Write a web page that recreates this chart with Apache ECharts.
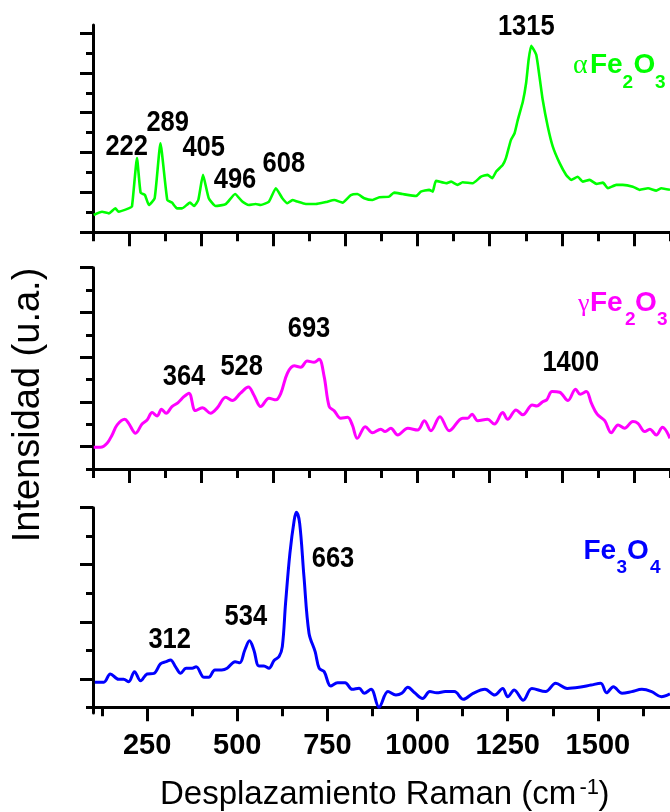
<!DOCTYPE html>
<html>
<head>
<meta charset="utf-8">
<script src="https://cdn.jsdelivr.net/npm/echarts@6/dist/echarts.min.js"></script>
<style>
html,body{margin:0;padding:0;background:#fff;}
#c{width:670px;height:812px;}
</style>
</head>
<body>
<div id="c"></div>
<script>
// ---------- DATA ----------
const alphaX = [102,125,144,162,171,199,208,222,232,244,255,271,287,306,319,333,347,369,380,392,405,421,440,468,494,514,532,551,565,588,607,625,639,653,667,690,718,746,769,792,815,833,852,875,894,921,935,958,996,1009,1032,1042,1051,1079,1093,1111,1125,1153,1176,1194,1207,1218,1236,1245,1259,1269,1278,1292,1301,1308,1315,1329,1338,1347,1361,1375,1394,1412,1426,1444,1458,1477,1496,1514,1528,1551,1569,1597,1616,1639,1662,1676,1700];
const alphaY = [0.87,1.03,0.95,1.2,1.03,1.2,1.29,3.72,1.99,1.87,1.37,1.71,4.47,1.62,1.49,1.2,1.2,1.49,1.32,1.62,2.88,1.71,1.32,1.41,1.92,1.54,1.37,1.42,1.37,1.54,2.21,1.71,1.46,1.62,1.54,1.42,1.42,1.52,1.62,1.49,1.87,1.92,1.71,1.62,1.76,1.79,1.99,1.92,1.82,2.04,2.13,2.04,2.58,2.46,2.54,2.38,2.51,2.46,2.79,2.88,2.71,3.05,3.38,3.72,4.64,4.97,5.64,6.56,7.49,8.66,9.36,8.91,7.82,6.65,5.31,4.3,3.47,2.88,2.63,2.79,2.54,2.63,2.43,2.49,2.21,2.38,2.38,2.29,2.13,2.21,2.09,2.21,2.13];

const gammaX = [102,121,139,153,167,188,199,218,236,250,264,278,290,303,319,336,352,366,384,403,426,444,468,486,509,531,546,565,588,607,621,639,658,676,694,713,727,741,755,769,787,806,819,833,855,875,898,910,926,945,973,1000,1019,1037,1062,1088,1125,1139,1151,1167,1194,1213,1236,1250,1273,1292,1318,1331,1347,1358,1373,1394,1417,1438,1451,1468,1482,1498,1519,1537,1556,1574,1597,1611,1630,1644,1662,1679,1700];
const gammaY = [0.97,0.97,1.15,1.52,1.97,2.22,2.04,1.6,2.01,2.19,2.52,2.37,2.67,2.49,2.79,2.97,3.23,3.39,2.61,2.74,2.49,2.72,3.21,3.06,3.39,3.66,3.31,2.79,3.16,3.09,3.39,4.28,4.61,4.55,4.83,4.77,4.91,4.13,2.79,2.6,2.27,2.31,1.97,1.37,1.89,1.62,1.78,1.67,1.82,1.52,1.82,1.74,2.16,1.71,2.34,1.71,2.27,2.27,2.45,2.16,2.22,2.01,2.52,2.22,2.64,2.42,2.86,2.82,3.01,3.09,3.46,3.43,3.06,3.57,3.34,3.46,2.94,2.45,2.16,1.62,1.97,1.82,2.12,2.04,1.67,1.78,1.52,1.87,1.37];

const magX = [105,130,148,171,185,199,215,232,250,269,287,303,315,329,343,358,375,386,408,421,438,457,472,494,507,521,534,546,560,574,588,602,616,625,634,646,658,664,673,685,699,716,727,741,759,778,799,819,838,852,871,893,918,940,956,973,992,1014,1034,1053,1077,1102,1127,1154,1187,1214,1236,1250,1268,1293,1317,1355,1383,1415,1448,1481,1508,1524,1543,1567,1594,1622,1649,1676,1700];
const magY = [0.88,0.88,1.17,0.98,0.98,0.9,1.25,0.93,1.17,1.19,1.52,1.6,1.66,1.42,1.19,1.37,1.37,1.42,1.05,1.05,1.31,1.31,1.37,1.6,1.56,2.01,2.33,2.01,1.45,1.45,1.37,1.64,1.78,2.13,3.65,5.4,6.57,6.84,6.46,4.58,2.6,1.95,1.37,1.25,0.75,0.86,0.86,0.63,0.67,0.49,0.63,0.0,0.55,0.43,0.49,0.7,0.51,0.31,0.55,0.51,0.55,0.55,0.28,0.49,0.63,0.43,0.66,0.37,0.61,0.25,0.66,0.55,0.84,0.66,0.7,0.78,0.84,0.51,0.72,0.49,0.55,0.63,0.55,0.37,0.47];

const xTickLabels = [250,500,750,1000,1250,1500];
const xMinorBottom = [125,375,625,875,1125,1375,1625];
const xMajorTop = [200,400,600,800,1000,1200,1400,1600];
const xMinorTop = [100,300,500,700,900,1100,1300,1500,1700];

const alphaPeaks = ['222','289','405','496','608','1315'];
const gammaPeaks = ['364','528','693','1400'];
const magPeaks = ['312','534','663'];

const xTitle = 'Desplazamiento Raman (cm';
const yTitle = 'Intensidad (u.a.)';

// ---------- LAYOUT ----------
const FONT = '"Liberation Sans", Arial, sans-serif';
const SERIF = '"Liberation Serif", "Times New Roman", serif';
const panels = [
  {top:25, height:207.3, min:0, max:10.4, major:[0,2,4,6,8,10], minor:[1,3,5,7,9], color:'#00FF00'},
  {top:267.7, height:207.3, min:-0.27, max:9, major:[1,3,5,7,9], minor:[0,2,4,6,8], color:'#FF00FF'},
  {top:507.7, height:205.3, min:-0.2, max:7, major:[1,3,5,7], minor:[0,2,4,6], color:'#0000FF'}
];
// label centre x, baseline y (pixels)
const peakPos = [
  [[126.7,156.7],[167.7,132.7],[203.7,158.3],[235,190],[283.8,174],[526.3,37.3]],
  [[184,386.7],[241.7,377.3],[309,339.3],[570.8,373.3]],
  [[169.7,650],[245.8,626.7],[333,569.3]]
];

const chart = echarts.init(document.getElementById('c'), null, {renderer:'canvas'});

const grids = [], xAxes = [], yAxes = [];
const line = {show:true, lineStyle:{color:'#000', width:3}};
panels.forEach((p, i) => {
  grids.push({left:93, top:p.top, width:577, height:p.height, outerBoundsMode:'none'});
  const bottom = i === 2;
  xAxes.push({
    type:'value', gridIndex:i, min:100, max:1700, position:'bottom',
    axisLine:line, splitLine:{show:false},
    axisTick:{show:true, customValues: bottom ? xTickLabels : xMajorTop, length:14, lineStyle:{color:'#000', width:3}},
    axisLabel:{show:bottom, customValues:xTickLabels, margin:18, color:'#000', fontFamily:FONT, fontWeight:'bold', fontSize:29,
      formatter: v => String(v)}
  });
  xAxes.push({
    type:'value', gridIndex:i, min:100, max:1700, position:'bottom',
    axisLine:{show:false}, splitLine:{show:false}, axisLabel:{show:false},
    axisTick:{show:true, customValues: bottom ? xMinorBottom : xMinorTop, length:9, lineStyle:{color:'#000', width:3}}
  });
  yAxes.push({
    type:'value', gridIndex:i, min:p.min, max:p.max, position:'left',
    axisLine:line, splitLine:{show:false}, axisLabel:{show:false},
    axisTick:{show:true, customValues:p.major, length:13, lineStyle:{color:'#000', width:3}}
  });
  yAxes.push({
    type:'value', gridIndex:i, min:p.min, max:p.max, position:'left',
    axisLine:{show:false}, splitLine:{show:false}, axisLabel:{show:false},
    axisTick:{show:true, customValues:p.minor, length:7, lineStyle:{color:'#000', width:3}}
  });
});

function zip(xs, ys){ return xs.map((x, k) => [x, ys[k]]); }
const seriesData = [zip(alphaX, alphaY), zip(gammaX, gammaY), zip(magX, magY)];
const series = seriesData.map((d, i) => ({
  type:'line', xAxisIndex:2*i, yAxisIndex:2*i, data:d, showSymbol:false, symbol:'none',
  smooth: i === 0 ? 0.15 : 0.35, lineStyle:{color:panels[i].color, width: i === 0 ? 2.6 : 3}, z:3,
  silent:true, animation:false
}));

// text graphics
const graphic = [];
function txt(s, x, y, size, opts){
  opts = opts || {};
  graphic.push({
    type:'text', x:x, y:y, rotation:opts.rotation || 0, scaleX:opts.scaleX || 1,
    style:{text:s, fill:opts.color || '#000', font:(opts.weight || 'normal') + ' ' + size + 'px ' + (opts.family || FONT),
      align:opts.align || 'left', verticalAlign:'middle'}
  });
}
const MID = 0.3465;
[alphaPeaks, gammaPeaks, magPeaks].forEach((arr, i) => {
  arr.forEach((s, k) => {
    const [cx, by] = peakPos[i][k];
    txt(s, cx, by - MID*29, 29, {weight:'bold', align:'center', scaleX:0.88});
  });
});
// formula labels
function formula(parts, color){
  parts.forEach(p => txt(p[0], p[1], p[2] - (p[4] ? 0.3375 : MID)*p[3], p[3],
    {weight:p[4] ? 'normal' : 'bold', family:p[4] ? SERIF : FONT, color:color}));
}
formula([['α',573,75,28,1],['Fe',590,75,28],['2',622.5,89.3,19],['O',633.5,75,28],['3',655,89.3,19]], '#00FF00');
formula([['γ',578,313.3,26,1],['Fe',590,313.3,28],['2',625,326,19],['O',635,313.3,28],['3',657,326,19]], '#FF00FF');
formula([['Fe',583.5,561,28],['3',616.5,574.4,19],['O',627,561,28],['4',650,574.4,19]], '#0000FF');
// axis titles
txt(xTitle, 160, 806.7 - MID*33, 33);
txt('-1', 579.5, 796 - MID*22, 22);
txt(')', 598.5, 806.7 - MID*33, 33);
txt(yTitle, 28.5, 405, 38, {align:'center', rotation:Math.PI/2});

chart.setOption({
  animation:false,
  backgroundColor:'#fff',
  grid:grids, xAxis:xAxes, yAxis:yAxes, series:series, graphic:graphic
});
</script>
</body>
</html>
